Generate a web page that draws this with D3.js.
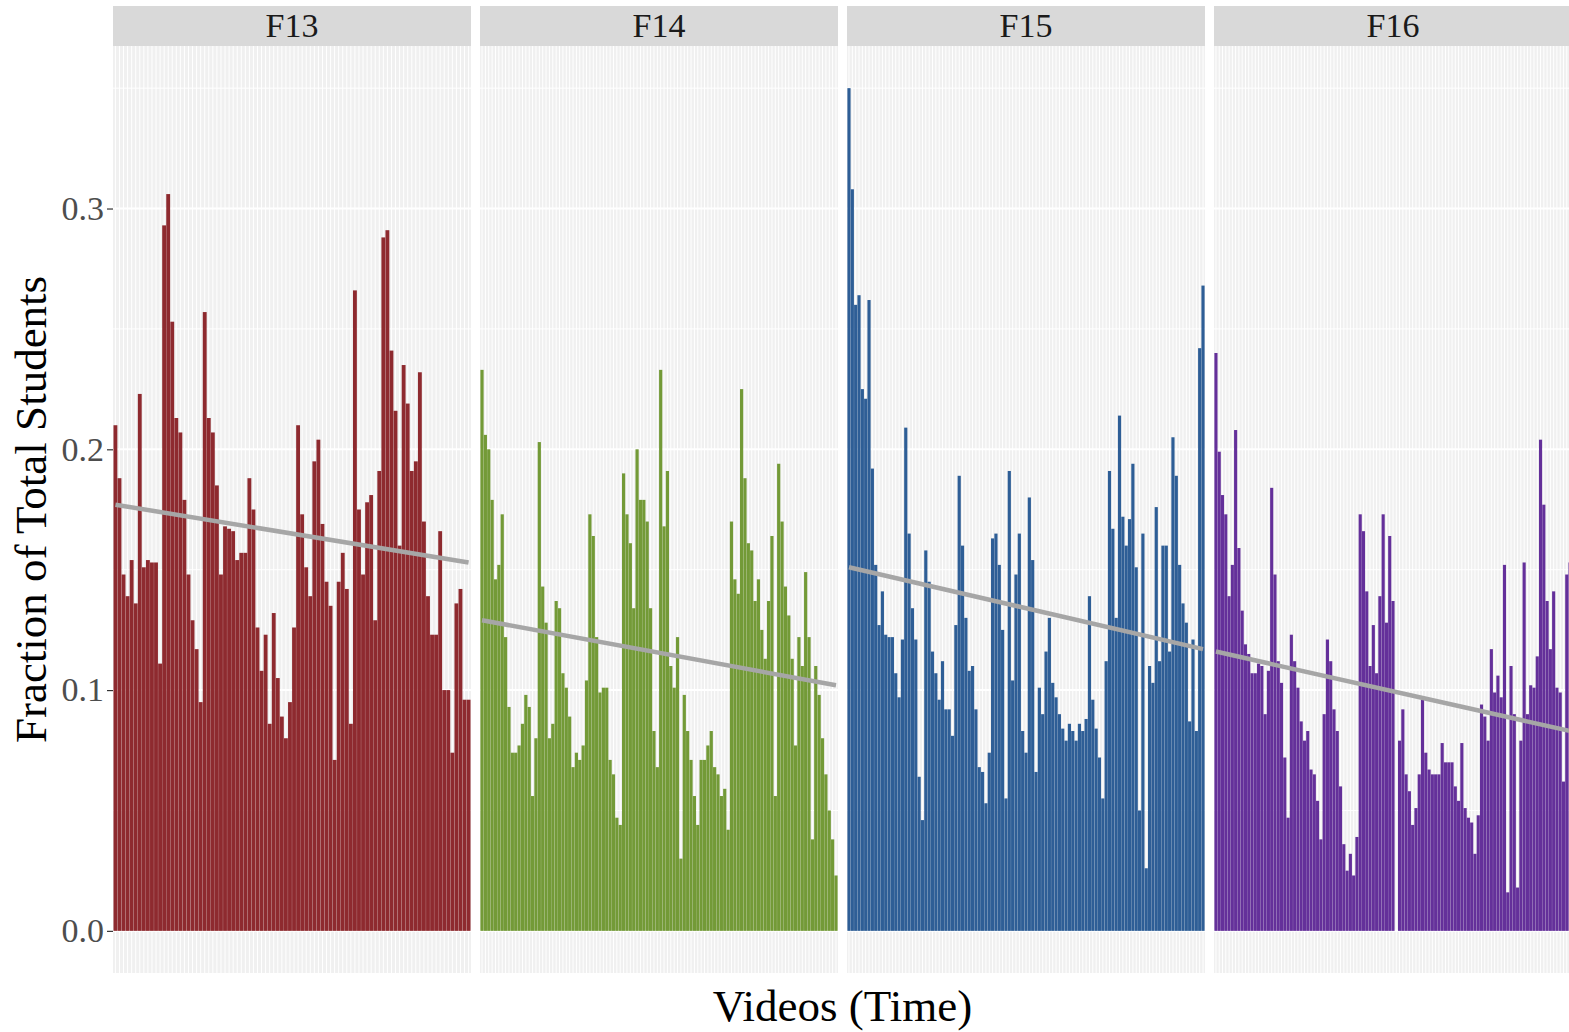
<!DOCTYPE html>
<html>
<head>
<meta charset="utf-8">
<script src="https://d3js.org/d3.v7.min.js"></script>
<style>
    body { margin: 0; background: #ffffff; }
    svg text { font-family: "Liberation Serif", "Times New Roman", serif; }
</style>
</head>
<body>
<div id="facet-bars"></div>
<script>

// Terms (facets) and the fraction of students per video
let terms = ["F13", "F14", "F15", "F16"];

let f13Values = [0.210, 0.188, 0.148, 0.139, 0.154, 0.136, 0.223, 0.151, 0.154, 0.153,
    0.153, 0.111, 0.293, 0.306, 0.253, 0.213, 0.207, 0.179, 0.148, 0.129,
    0.117, 0.095, 0.257, 0.213, 0.207, 0.185, 0.148, 0.168, 0.167, 0.166,
    0.154, 0.157, 0.157, 0.188, 0.175, 0.126, 0.108, 0.123, 0.086, 0.132,
    0.105, 0.089, 0.080, 0.095, 0.126, 0.210, 0.173, 0.151, 0.139, 0.195,
    0.204, 0.169, 0.145, 0.135, 0.071, 0.145, 0.157, 0.142, 0.086, 0.266,
    0.175, 0.148, 0.178, 0.181, 0.129, 0.191, 0.288, 0.291, 0.241, 0.216,
    0.160, 0.235, 0.219, 0.191, 0.195, 0.232, 0.170, 0.139, 0.123, 0.123,
    0.166, 0.100, 0.100, 0.074, 0.136, 0.142, 0.096, 0.096];

let f14Values = [0.233, 0.206, 0.200, 0.179, 0.146, 0.152, 0.173, 0.122, 0.093, 0.074,
    0.074, 0.077, 0.086, 0.098, 0.093, 0.056, 0.080, 0.203, 0.143, 0.128,
    0.080, 0.086, 0.137, 0.134, 0.107, 0.101, 0.089, 0.068, 0.074, 0.071,
    0.077, 0.104, 0.173, 0.164, 0.122, 0.099, 0.101, 0.101, 0.071, 0.065,
    0.047, 0.044, 0.190, 0.173, 0.161, 0.134, 0.200, 0.179, 0.179, 0.170,
    0.134, 0.083, 0.068, 0.233, 0.168, 0.191, 0.110, 0.101, 0.122, 0.030,
    0.098, 0.083, 0.071, 0.056, 0.044, 0.071, 0.071, 0.077, 0.083, 0.068,
    0.065, 0.056, 0.059, 0.042, 0.170, 0.146, 0.140, 0.225, 0.188, 0.161,
    0.158, 0.137, 0.146, 0.125, 0.113, 0.137, 0.164, 0.056, 0.194, 0.170,
    0.143, 0.131, 0.113, 0.077, 0.122, 0.110, 0.149, 0.122, 0.038, 0.110,
    0.098, 0.080, 0.065, 0.050, 0.038, 0.023];

let f15Values = [0.350, 0.308, 0.260, 0.264, 0.225, 0.221, 0.262, 0.192, 0.152, 0.127,
    0.141, 0.123, 0.122, 0.122, 0.107, 0.097, 0.121, 0.209, 0.165, 0.134,
    0.121, 0.064, 0.046, 0.158, 0.145, 0.116, 0.107, 0.096, 0.112, 0.092,
    0.092, 0.081, 0.127, 0.189, 0.160, 0.130, 0.108, 0.110, 0.092, 0.068,
    0.066, 0.053, 0.074, 0.163, 0.165, 0.152, 0.125, 0.055, 0.191, 0.104,
    0.148, 0.165, 0.083, 0.074, 0.180, 0.154, 0.066, 0.101, 0.090, 0.116,
    0.130, 0.103, 0.097, 0.090, 0.084, 0.079, 0.086, 0.083, 0.079, 0.086,
    0.083, 0.088, 0.139, 0.096, 0.084, 0.072, 0.055, 0.112, 0.191, 0.167,
    0.130, 0.214, 0.172, 0.160, 0.171, 0.194, 0.151, 0.050, 0.165, 0.026,
    0.110, 0.103, 0.176, 0.112, 0.160, 0.160, 0.116, 0.205, 0.189, 0.152,
    0.136, 0.128, 0.087, 0.121, 0.083, 0.242, 0.268];

let f16Values = [0.240, 0.199, 0.181, 0.173, 0.139, 0.152, 0.208, 0.159, 0.133, 0.119,
    0.115, 0.107, 0.107, 0.111, 0.110, 0.090, 0.108, 0.184, 0.148, 0.112,
    0.103, 0.072, 0.047, 0.123, 0.112, 0.101, 0.087, 0.079, 0.083, 0.067,
    0.065, 0.054, 0.038, 0.090, 0.121, 0.112, 0.092, 0.083, 0.060, 0.036,
    0.025, 0.032, 0.023, 0.039, 0.173, 0.166, 0.141, 0.110, 0.127, 0.107,
    0.139, 0.173, 0.128, 0.164, 0.137, 0.000, 0.079, 0.092, 0.065, 0.058,
    0.044, 0.051, 0.065, 0.096, 0.074, 0.067, 0.065, 0.065, 0.065, 0.078,
    0.070, 0.070, 0.070, 0.060, 0.054, 0.078, 0.051, 0.047, 0.045, 0.032,
    0.048, 0.094, 0.089, 0.079, 0.117, 0.099, 0.106, 0.097, 0.152, 0.016,
    0.110, 0.090, 0.018, 0.079, 0.153, 0.090, 0.102, 0.101, 0.114, 0.204,
    0.177, 0.137, 0.117, 0.141, 0.101, 0.099, 0.062, 0.148, 0.153];

// Linear trend (geom_smooth lm) value at first and last video of each term
let trendStart = [0.177, 0.129, 0.151, 0.116];
let trendEnd = [0.153, 0.102, 0.117, 0.083];

let yTicks = [0, 0.1, 0.2, 0.3];
let yMinorTicks = [0.05, 0.15, 0.25, 0.35];

// Colors per term
let termColors = {
    F13: "#8e2a2f",
    F14: "#739a37",
    F15: "#2e5e96",
    F16: "#64309a"
};


/*
 * FacetBarVis - Object constructor function
 * @param _parentElement  -- the HTML element in which to draw the visualization
 * @param _terms          -- facet names
 * @param _values         -- list of value arrays, one for each facet
 */

FacetBarVis = function(_parentElement, _terms, _values) {
    this.parentElement = _parentElement;
    this.terms = _terms;
    this.values = _values;

    this.initVis();
};

FacetBarVis.prototype.initVis = function() {
    var vis = this;

    vis.width = 1569;
    vis.height = 1032;

    vis.panelLeft = 113;
    vis.panelWidth = 358;
    vis.panelGap = 9;
    vis.stripTop = 6;
    vis.stripHeight = 40;
    vis.panelTop = vis.stripTop + vis.stripHeight;
    vis.panelBottom = 973;

    vis.svg = d3.select("#" + vis.parentElement).append("svg")
        .attr("width", vis.width)
        .attr("height", vis.height);

    // y scale shared by all facets, ggplot-like 5% expansion
    let maxVal = d3.max(vis.values, function(v) { return d3.max(v); });
    let pad = maxVal * 0.05;
    vis.y = d3.scaleLinear()
        .domain([-pad, maxVal + pad])
        .range([vis.panelBottom, vis.panelTop]);

    vis.drawAxis();
    vis.drawPanels();
    vis.drawTitles();
};


FacetBarVis.prototype.drawAxis = function() {
    var vis = this;

    var yAxis = d3.axisLeft(vis.y)
        .tickValues(yTicks)
        .tickSize(6)
        .tickPadding(3)
        .tickFormat(d3.format(".1f"));

    var g = vis.svg.append("g")
        .attr("transform", "translate(" + vis.panelLeft + ",0)")
        .call(yAxis);

    g.select(".domain").remove();
    g.selectAll(".tick line").attr("stroke", "#333333").attr("stroke-width", 1.2);
    g.selectAll(".tick text")
        .attr("fill", "#4d4d4d")
        .style("font-size", "34px");
};


FacetBarVis.prototype.drawPanels = function() {
    var vis = this;

    vis.terms.forEach(function(term, t) {
        let vals = vis.values[t];
        let x0 = vis.panelLeft + t * (vis.panelWidth + vis.panelGap);

        // discrete x, bars nearly touching
        let x = d3.scaleBand()
            .domain(d3.range(vals.length))
            .range([x0, x0 + vis.panelWidth])
            .paddingInner(0.05)
            .paddingOuter(0.12);

        let panel = vis.svg.append("g").attr("class", "panel-" + term);

        // strip
        panel.append("rect")
            .attr("x", x0)
            .attr("y", vis.stripTop)
            .attr("width", vis.panelWidth)
            .attr("height", vis.stripHeight)
            .attr("fill", "#d9d9d9");

        panel.append("text")
            .attr("x", x0 + vis.panelWidth / 2)
            .attr("y", vis.stripTop + 31)
            .attr("text-anchor", "middle")
            .attr("fill", "#1a1a1a")
            .style("font-size", "34px")
            .text(term);

        // background
        panel.append("rect")
            .attr("x", x0)
            .attr("y", vis.panelTop)
            .attr("width", vis.panelWidth)
            .attr("height", vis.panelBottom - vis.panelTop)
            .attr("fill", "#f0f0f0");

        // horizontal grid
        panel.selectAll(".minor-h")
            .data(yMinorTicks)
            .enter()
            .append("line")
            .attr("x1", x0)
            .attr("x2", x0 + vis.panelWidth)
            .attr("y1", function(d) { return vis.y(d); })
            .attr("y2", function(d) { return vis.y(d); })
            .attr("stroke", "#ffffff")
            .attr("stroke-width", 1);

        panel.selectAll(".major-h")
            .data(yTicks)
            .enter()
            .append("line")
            .attr("x1", x0)
            .attr("x2", x0 + vis.panelWidth)
            .attr("y1", function(d) { return vis.y(d); })
            .attr("y2", function(d) { return vis.y(d); })
            .attr("stroke", "#ffffff")
            .attr("stroke-width", 2);

        // vertical grid, one line per video
        panel.selectAll(".major-v")
            .data(d3.range(vals.length))
            .enter()
            .append("line")
            .attr("x1", function(i) { return x(i) + x.bandwidth() / 2; })
            .attr("x2", function(i) { return x(i) + x.bandwidth() / 2; })
            .attr("y1", vis.panelTop)
            .attr("y2", vis.panelBottom)
            .attr("stroke", "#ffffff")
            .attr("stroke-width", 1);

        // bars
        panel.selectAll(".bar")
            .data(vals)
            .enter()
            .append("rect")
            .attr("class", "bar")
            .attr("x", function(d, i) { return x(i); })
            .attr("width", x.bandwidth())
            .attr("y", function(d) { return vis.y(d); })
            .attr("height", function(d) { return vis.y(0) - vis.y(d); })
            .attr("fill", termColors[term]);

        // trend line across the videos of the term
        let xFirst = x(0) + x.bandwidth() / 2;
        let xLast = x(vals.length - 1) + x.bandwidth() / 2;
        panel.append("line")
            .attr("x1", xFirst)
            .attr("x2", xLast)
            .attr("y1", vis.y(trendStart[t]))
            .attr("y2", vis.y(trendEnd[t]))
            .attr("stroke", "#a6a6a6")
            .attr("stroke-width", 4.5);
    });
};


FacetBarVis.prototype.drawTitles = function() {
    var vis = this;

    let fullWidth = 4 * vis.panelWidth + 3 * vis.panelGap;

    vis.svg.append("text")
        .attr("x", vis.panelLeft + fullWidth / 2)
        .attr("y", 1021)
        .attr("text-anchor", "middle")
        .attr("fill", "#000000")
        .style("font-size", "45px")
        .text("Videos (Time)");

    vis.svg.append("text")
        .attr("transform", "translate(46," + ((vis.panelTop + vis.panelBottom) / 2) + ") rotate(-90)")
        .attr("text-anchor", "middle")
        .attr("fill", "#000000")
        .style("font-size", "45px")
        .text("Fraction of Total Students");
};


var facetVis = new FacetBarVis("facet-bars", terms, [f13Values, f14Values, f15Values, f16Values]);

</script>
</body>
</html>
